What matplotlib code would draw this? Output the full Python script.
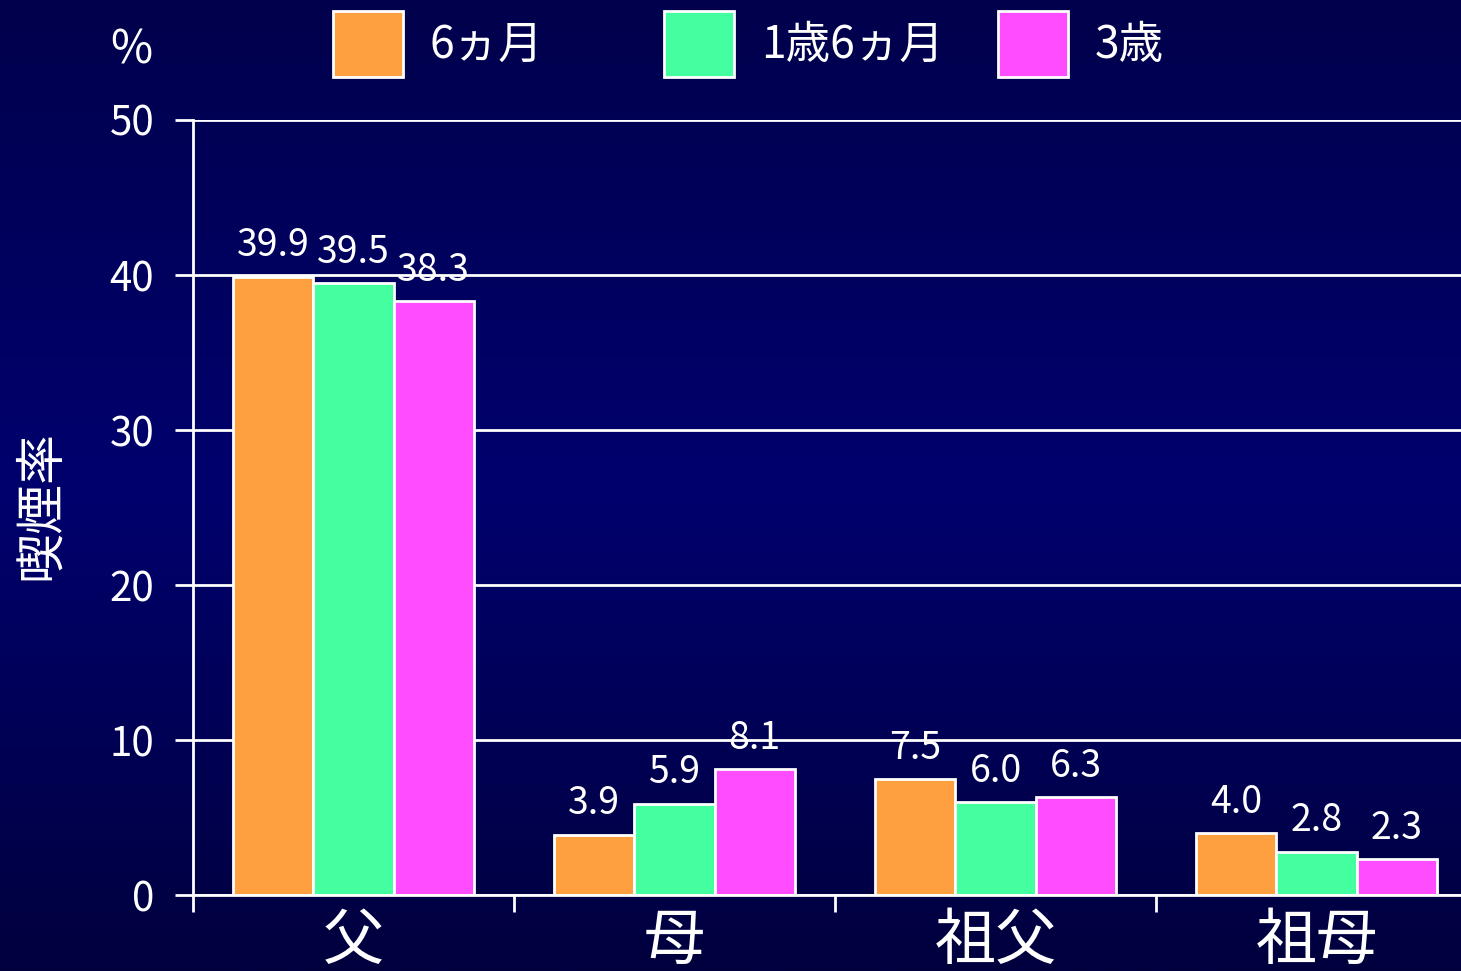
import matplotlib
matplotlib.use("Agg")
import matplotlib.pyplot as plt
import numpy as np

plt.rcParams['font.family'] = ['Noto Sans CJK JP', 'DejaVu Sans']

categories = ['父', '母', '祖父', '祖母']
series_names = ['6ヵ月', '1歳6ヵ月', '3歳']
vals_6m = [39.9, 3.9, 7.5, 4.0]
vals_18m = [39.5, 5.9, 6.0, 2.8]
vals_3y = [38.3, 8.1, 6.3, 2.3]
series_values = [vals_6m, vals_18m, vals_3y]
colors = ['#FFA040', '#44FFA0', '#FF4CFF']
yticks = [0, 10, 20, 30, 40, 50]

W, H = 1461, 971
fig = plt.figure(figsize=(W / 100, H / 100), dpi=100)

# background gradient
bg = fig.add_axes([0, 0, 1, 1], zorder=-10)
yy = np.linspace(0, 1, 400)
r = np.zeros_like(yy)
b = np.interp(yy, [0.0, 0.5, 1.0], [76, 110, 62]) / 255.0
grad = np.stack([r, r, b], axis=1).reshape(-1, 1, 3)
bg.imshow(grad, aspect='auto', extent=[0, 1, 1, 0])
bg.set_axis_off()

unit = 321.0
ax_left = 193
ax_right = W + 20
ax = fig.add_axes([ax_left / W, 76 / H, (ax_right - ax_left) / W, (895 - 120) / H])
ax.set_facecolor('none')
x = np.arange(len(categories))
bw = 0.25
offsets = [-bw, 0, bw]
bars_all = []
for vals, c, off, name in zip(series_values, colors, offsets, series_names):
    bars = ax.bar(x + off, vals, width=bw, color=c, edgecolor='white',
                  linewidth=2.0, zorder=3, label=name)
    bars_all.append(bars)
    for rect, v in zip(bars, vals):
        ax.annotate(f'{v:.1f}', (rect.get_x() + rect.get_width() / 2, v),
                    xytext=(0, 8), textcoords='offset points', ha='center',
                    va='bottom', color='white', fontsize=27, zorder=4)

ax.set_ylim(0, 50)
ax.set_xlim(-0.5, -0.5 + (ax_right - ax_left) / unit)
ax.set_yticks(yticks)
ax.set_yticklabels([str(t) for t in yticks])
ax.yaxis.grid(True, color='white', linewidth=2.0, zorder=1)
ax.set_axisbelow(True)
for s in ['top', 'right']:
    ax.spines[s].set_visible(False)
for s in ['left', 'bottom']:
    ax.spines[s].set_color('white')
    ax.spines[s].set_linewidth(2.0)
    ax.spines[s].set_zorder(5)
ax.tick_params(axis='y', colors='white', length=13, width=2.0, pad=15,
               labelsize=29)
ax.set_xticks(np.arange(len(categories)) - 0.5)
ax.set_xticklabels([])
ax.tick_params(axis='x', which='major', colors='white', length=12, width=2.0)
ax.set_xticks(x, minor=True)
ax.set_xticklabels(categories, minor=True)
ax.tick_params(axis='x', which='minor', length=0, pad=11, labelsize=44,
               labelcolor='white')

# legend entries placed in fixed-width columns
leg_x = [333, 664, 998]
fs = 32
fpx = fs * 100 / 72
for bars, name, lx in zip(bars_all, series_names, leg_x):
    leg = fig.legend([bars[0]], [name], loc='center left',
                     bbox_to_anchor=(lx / W, 1 - 44 / H), frameon=False,
                     borderpad=0, borderaxespad=0, fontsize=fs,
                     handlelength=70 / fpx, handleheight=84 / fpx,
                     handletextpad=27 / fpx, labelcolor='white')

fig.text(131 / W, 1 - 50 / H, '%', color='white', fontsize=33,
         ha='center', va='center')
fig.text(41 / W, 1 - 505 / H, '喫煙率', color='white', fontsize=36,
         rotation=90, ha='center', va='center')

fig.savefig('out.png', dpi=100)
